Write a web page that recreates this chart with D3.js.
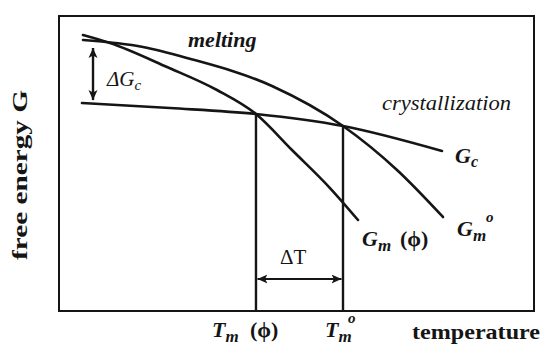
<!DOCTYPE html>
<html><head><meta charset="utf-8">
<script src="https://cdn.jsdelivr.net/npm/d3@7"></script>
<style>html,body{margin:0;padding:0;background:#fff} text{font-family:"Liberation Serif","DejaVu Serif",serif}</style>
</head><body>
<svg id="chart" width="544" height="345"></svg>
<script>
// Free energy versus temperature, arbitrary units (0–100 on both axes)
const gmPhiT  = [5.05, 10.74, 22.74, 33.26, 41.47, 49.05, 57.05, 62.95];
const gmPhiG  = [93.56, 90.85, 82.71, 74.92, 66.78, 54.58, 41.69, 30.85];
const gmZeroT = [5.05, 17.68, 26.95, 44.84, 59.79, 71.16, 80.84];
const gmZeroG = [91.86, 89.49, 85.76, 76.27, 62.71, 47.80, 31.86];
const gcT     = [4.84, 23.37, 41.47, 59.79, 80.63];
const gcG     = [70.51, 68.81, 66.78, 62.71, 54.24];
// melting points where each melting curve meets G_c: Tm(ϕ), Tm°
const meltT = [41.47, 59.79];
const meltG = [66.78, 62.71];
// ΔGc bracket near the low-temperature end, ΔT bracket between the melting points
const deltaGcT = 7.16;
const deltaGcRange = [89.15, 71.5];
const deltaTLevel = 10.85;

const svg = d3.select("#chart");
const ink = "#151515";

const x = d3.scaleLinear().domain([0, 100]).range([59, 534]);
const y = d3.scaleLinear().domain([0, 100]).range([311, 16]);

// arrowheads
const defs = svg.append("defs");
defs.append("marker")
  .attr("id", "arrow")
  .attr("viewBox", "0 -5 10 10")
  .attr("refX", 10).attr("refY", 0)
  .attr("markerWidth", 10).attr("markerHeight", 10)
  .attr("markerUnits", "userSpaceOnUse")
  .attr("orient", "auto-start-reverse")
  .append("path")
  .attr("d", "M0,-4.5L10,0L0,4.5L2.5,0Z")
  .attr("fill", ink);

// frame
svg.append("rect")
  .attr("x", x(0)).attr("y", y(100))
  .attr("width", x(100) - x(0)).attr("height", y(0) - y(100))
  .attr("fill", "none").attr("stroke", ink).attr("stroke-width", 2);

const line = d3.line()
  .x(d => x(d[0])).y(d => y(d[1]))
  .curve(d3.curveMonotoneX);

const curves = [
  d3.zip(gmPhiT, gmPhiG),
  d3.zip(gmZeroT, gmZeroG),
  d3.zip(gcT, gcG)
];
svg.selectAll("path.curve").data(curves).join("path")
  .attr("class", "curve")
  .attr("d", line)
  .attr("fill", "none").attr("stroke", ink)
  .attr("stroke-width", 2.6).attr("stroke-linecap", "round");

// verticals from the melting points down to the temperature axis
svg.selectAll("line.melt").data(d3.zip(meltT, meltG)).join("line")
  .attr("class", "melt")
  .attr("x1", d => x(d[0])).attr("x2", d => x(d[0]))
  .attr("y1", d => y(d[1])).attr("y2", y(0))
  .attr("stroke", ink).attr("stroke-width", 2.4);

// ΔT double arrow
svg.append("line")
  .attr("x1", x(meltT[0]) + 1.5).attr("x2", x(meltT[1]) - 1.5)
  .attr("y1", y(deltaTLevel)).attr("y2", y(deltaTLevel))
  .attr("stroke", ink).attr("stroke-width", 2.2)
  .attr("marker-start", "url(#arrow)").attr("marker-end", "url(#arrow)");

// ΔGc double arrow
svg.append("line")
  .attr("x1", x(deltaGcT)).attr("x2", x(deltaGcT))
  .attr("y1", y(deltaGcRange[0])).attr("y2", y(deltaGcRange[1]))
  .attr("stroke", ink).attr("stroke-width", 2.4)
  .attr("marker-start", "url(#arrow)").attr("marker-end", "url(#arrow)");

// text helper
function label(px, py, opts) {
  return svg.append("text")
    .attr("x", px).attr("y", py)
    .attr("font-size", opts.size || 20)
    .attr("font-style", opts.italic ? "italic" : "normal")
    .attr("font-weight", opts.bold ? "bold" : "normal")
    .attr("fill", ink);
}

// ΔGc
{
  const t = label(107, 86, {size: 21, italic: true});
  t.append("tspan").text("ΔG");
  t.append("tspan").attr("font-size", 15).attr("dy", 4).text("c");
}
label(188, 47, {size: 22, bold: true, italic: true}).text("melting");
label(382, 110, {size: 21, italic: true})
  .attr("textLength", 129).attr("lengthAdjust", "spacingAndGlyphs")
  .text("crystallization");

// Gc
{
  const t = label(455, 163, {size: 22, bold: true, italic: true});
  t.append("tspan").text("G");
  t.append("tspan").attr("font-size", 16).attr("dy", 4).text("c");
}
// Gm°
{
  const t = label(457, 236, {size: 22, bold: true, italic: true});
  t.append("tspan").text("G");
  t.append("tspan").attr("font-size", 17).attr("dy", 5).text("m");
  t.append("tspan").attr("font-size", 15).attr("x", 486).attr("dy", -19).text("o");
}
// Gm(ϕ)
{
  const t = label(362, 246, {size: 22, bold: true, italic: true});
  t.append("tspan").text("G");
  t.append("tspan").attr("font-size", 17).attr("dy", 5).text("m");
  t.append("tspan").attr("x", 400).attr("dy", -5).attr("font-style", "normal").text("(ϕ)");
}
// ΔT
label(280, 264, {size: 21}).text("ΔT");

// temperature-axis labels
{
  const t = label(212, 337, {size: 22, bold: true, italic: true});
  t.append("tspan").text("T");
  t.append("tspan").attr("font-size", 17).attr("dy", 5).text("m");
  t.append("tspan").attr("x", 250).attr("dy", -5).attr("font-style", "normal").text("(ϕ)");
}
{
  const t = label(325, 337, {size: 22, bold: true, italic: true});
  t.append("tspan").text("T");
  t.append("tspan").attr("font-size", 17).attr("dy", 5).text("m");
  t.append("tspan").attr("font-size", 15).attr("x", 348).attr("dy", -19).text("o");
}
label(412, 339, {size: 22, bold: true})
  .attr("textLength", 128).attr("lengthAdjust", "spacingAndGlyphs")
  .text("temperature");

// free-energy axis title
label(0, 0, {size: 22, bold: true})
  .attr("transform", "translate(27,175) rotate(-90)")
  .attr("text-anchor", "middle")
  .attr("textLength", 170).attr("lengthAdjust", "spacingAndGlyphs")
  .text("free  energy  G");
</script>
</body></html>
